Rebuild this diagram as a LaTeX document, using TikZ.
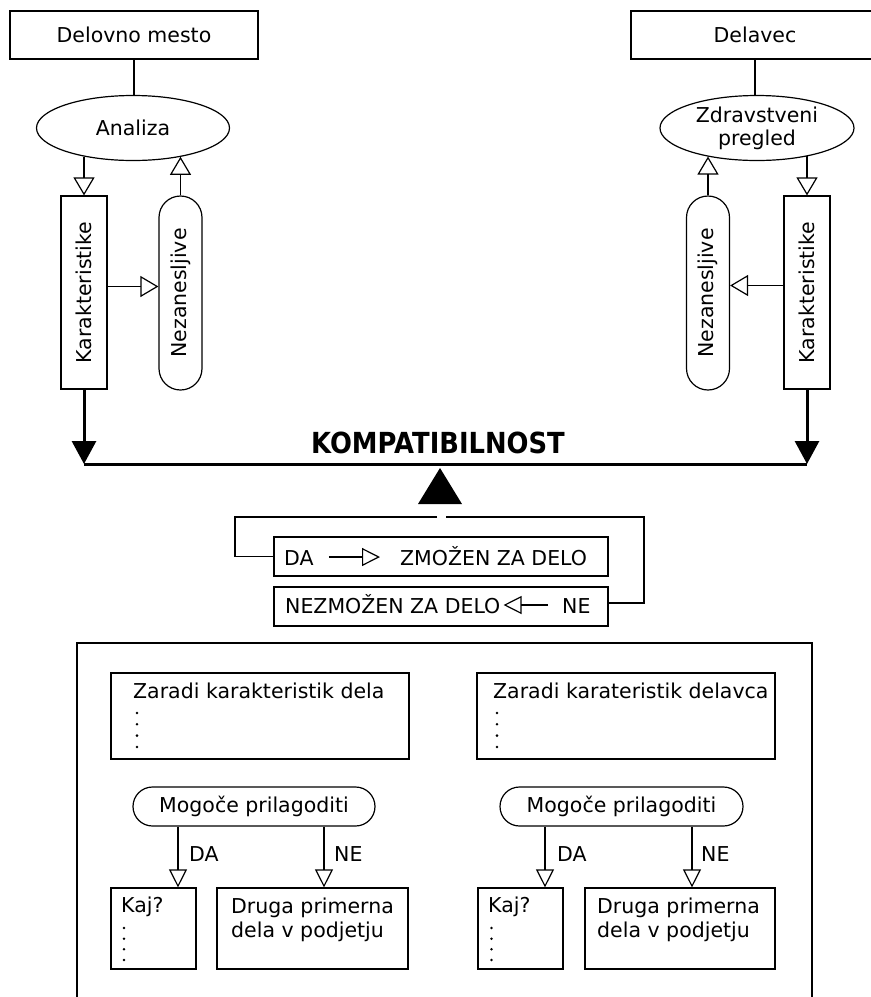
\documentclass[tikz,border=0pt]{standalone}
\usepackage{fontspec}
\usepackage{graphicx}
\setmainfont{DejaVu Sans}
\usetikzlibrary{arrows.meta,shapes.geometric,calc}
\begin{document}
\begin{tikzpicture}[x=1pt,y=-1pt,
  every node/.style={font=\fontsize{20.5}{23}\selectfont, inner sep=0pt},
  thinline/.style={line width=1.2pt},
  box/.style={draw, thinline, fill=white, rectangle},
  pill/.style={draw, thinline, fill=white, rectangle, rounded corners=#1},
  oval/.style={draw, thinline, fill=white, ellipse},
  oarrow/.style={thinline, -{Triangle[open, length=18pt, width=21pt]}},
  sarrow/.style={thinline, -{Triangle[open, length=18pt, width=18pt]}},
  barrow/.style={line width=3pt, -{Triangle[length=23pt, width=24pt]}},
  lbl/.style={anchor=base west},
  rowtxt/.style={anchor=base west, text height=16pt, text depth=0pt},
]
\useasboundingbox (0,0) rectangle (871,997);

% ---- top left
\node[box, minimum width=248pt, minimum height=48pt] (dm) at (134,35) {Delovno mesto};
\node[oval, minimum width=193pt, minimum height=65pt] (an) at (133,128) {Analiza};
\node[box, minimum width=46pt, minimum height=193pt] (kL) at (84,292.5) {};
\node[rotate=90] (kLt) at (kL.center) {Karakteristike};
\node[pill=21.5pt, minimum width=43pt, minimum height=194pt] (nL) at (180.5,293) {};
\node[rotate=90] (nLt) at (nL.center) {Nezanesljive};

% ---- top right
\node[box, minimum width=248pt, minimum height=48pt] (dv) at (755,35) {Delavec};
\node[oval, minimum width=194pt, minimum height=65pt, align=center] (zp) at (757,128) {Zdravstveni\\pregled};
\node[box, minimum width=46pt, minimum height=193pt] (kR) at (807,292.5) {};
\node[rotate=90] (kRt) at (kR.center) {Karakteristike};
\node[pill=21.5pt, minimum width=43pt, minimum height=194pt] (nR) at (708,293) {};
\node[rotate=90] (nRt) at (nR.center) {Nezanesljive};

% connectors top
\draw[thinline] (dm.south) -- (dm.south |- an.north);
\draw[thinline] (dv.south) -- (dv.south |- zp.north);
\draw[oarrow] (kL.north |- an.210) -- (kL.north);
\draw[oarrow] (nL.north) -- (nL.north |- an.329);
\draw[oarrow] (kR.north |- zp.331) -- (kR.north);
\draw[oarrow] (nR.north) -- (nR.north |- zp.210);
\coordinate (hL) at ([yshift=6pt]kL.east);
\draw[oarrow] (hL) -- (hL -| nL.west);
\coordinate (hR) at ([yshift=7pt]kR.west);
\draw[oarrow] (hR) -- (hR -| nR.east);

% compatibility line
\coordinate (bl) at (84,464);
\coordinate (br) at (807,464);
\draw[line width=3pt] (bl) -- (br);
\draw[barrow] (kL.south) -- (bl);
\draw[barrow] (kR.south) -- (br);
\node[anchor=base] (komp) at (438,453) {\scalebox{0.89}[1]{\fontsize{29}{30}\selectfont\bfseries KOMPATIBILNOST}};

% big triangle
\coordinate (t1) at (418,504);
\coordinate (t2) at (462,504);
\coordinate (t3) at (440,468);
\fill (t1) -- (t2) -- (t3) -- cycle;

% DA / NE boxes
\node[box, minimum width=334pt, minimum height=39pt] (da) at (441,556.5) {};
\node[box, minimum width=334pt, minimum height=39pt] (ne) at (441,606.5) {};
\node[rowtxt] (daT) at (284,565) {DA};
\node[rowtxt] (zmT) at (400,565) {ZMOŽEN ZA DELO};
\coordinate (daA) at ([xshift=15pt]daT.east);
\draw[sarrow] (daA) -- ([xshift=-20pt]daA -| zmT.west);
\node[rowtxt] (nzT) at (285,613) {NEZMOŽEN ZA DELO};
\node[rowtxt] (neT) at (562,613) {NE};
\coordinate (neA) at ([xshift=-14pt]neT.west);
\coordinate (neB) at ([xshift=3pt]nzT.east);
\draw[sarrow] (neA) -- (neA -| neB);

% loop
\coordinate (gL) at (437,517);
\coordinate (gR) at (446,517);
\coordinate (lc) at (235,556.5);
\coordinate (rc) at (644,603);
\draw[thinline] (gL) -| (lc) -- (da.west);
\draw[thinline] (gR) -| (rc) -- (rc -| ne.east);

% outer container
\coordinate (o1) at (77,997);
\coordinate (o2) at (77,643);
\coordinate (o3) at (812,643);
\coordinate (o4) at (812,997);
\draw[thinline] (o1) -- (o2) -- (o3) -- (o4);

% ---- bottom left
\node[box, minimum width=298pt, minimum height=86pt] (zL) at (260,716) {};
\node[lbl] (zLt) at (133,698) {Zaradi karakteristik dela};
\foreach \d in {0,11.3,22.6,33.9} \fill (137,713+\d) circle (1.4pt);
\node[pill=19.5pt, minimum width=242pt, minimum height=39pt] (mL) at (254,806.5) {Mogoče prilagoditi};
\node[box, minimum width=85pt, minimum height=81pt] (kajL) at (153.5,928.5) {};
\node[lbl] (kajLt) at (121,912) {Kaj?};
\foreach \d in {0,10.7,21.3,32} \fill (124,928+\d) circle (1.4pt);
\node[box, minimum width=191pt, minimum height=81pt] (drL) at (312.5,928.5) {};
\node[lbl] (drL1) at (231,913) {Druga primerna};
\node[lbl] (drL2) at (231,937) {dela v podjetju};
\coordinate (xdaL) at (178,0);
\coordinate (xneL) at (324,0);
\draw[sarrow] (mL.south -| xdaL) -- (kajL.north -| xdaL);
\draw[sarrow] (mL.south -| xneL) -- (drL.north -| xneL);
\node[lbl] (daLb) at (189,861) {DA};
\node[lbl] (neLb) at (334,861) {NE};

% ---- bottom right
\node[box, minimum width=298pt, minimum height=86pt] (zR) at (626,716) {};
\node[lbl] (zRt) at (493,698) {Zaradi karateristik delavca};
\foreach \d in {0,11.3,22.6,33.9} \fill (497,713+\d) circle (1.4pt);
\node[pill=19.5pt, minimum width=243pt, minimum height=39pt] (mR) at (621.5,806.5) {Mogoče prilagoditi};
\node[box, minimum width=85pt, minimum height=81pt] (kajR) at (520.5,928.5) {};
\node[lbl] (kajRt) at (488,912) {Kaj?};
\foreach \d in {0,10.7,21.3,32} \fill (491.5,928+\d) circle (1.4pt);
\node[box, minimum width=190pt, minimum height=81pt] (drR) at (680,928.5) {};
\node[lbl] (drR1) at (597,913) {Druga primerna};
\node[lbl] (drR2) at (597,937) {dela v podjetju};
\coordinate (xdaR) at (545,0);
\coordinate (xneR) at (692,0);
\draw[sarrow] (mR.south -| xdaR) -- (kajR.north -| xdaR);
\draw[sarrow] (mR.south -| xneR) -- (drR.north -| xneR);
\node[lbl] (daRb) at (557,861) {DA};
\node[lbl] (neRb) at (701,861) {NE};
\end{tikzpicture}
\end{document}
